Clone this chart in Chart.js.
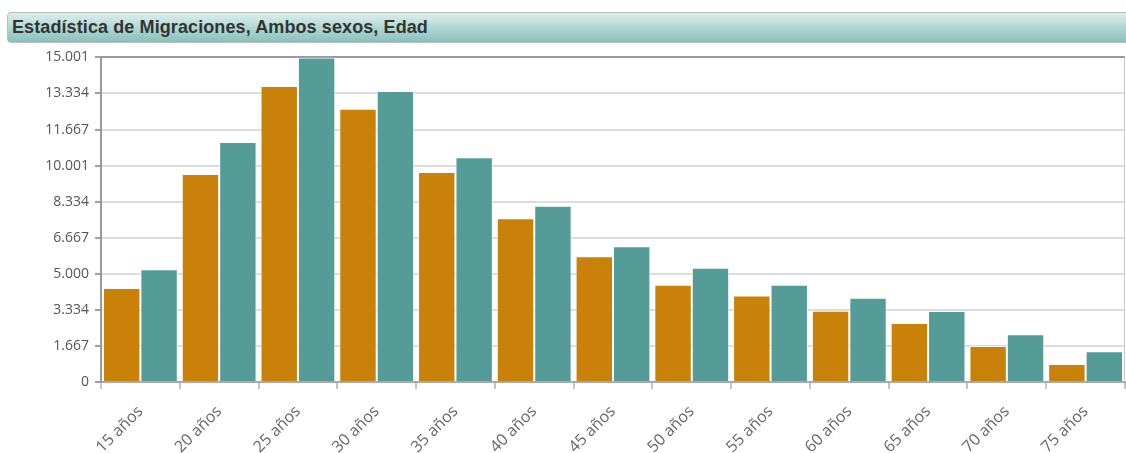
<!DOCTYPE html>
<html lang="es">
<head>
  <meta charset="UTF-8"/>
  <title>Estadística de Migraciones</title>
  <style>
    * { box-sizing: border-box; }
    body { margin: 0; background: #fff; width: 1126px; height: 453px; overflow: hidden; position: relative; }
    .titlebar {
      position: absolute; left: 7px; top: 12px; width: 1125px; height: 31px;
      border: 1px solid #b9bdbc; border-radius: 4px 0 0 4px;
      background: linear-gradient(#dceeec, #87c1bc);
      font: bold 18px "Liberation Sans", Arial, sans-serif; color: #333;
      padding: 4px 0 0 4px; letter-spacing: 0.1px;
      z-index: 1;
    }
    .chart-box { position: absolute; left: 0; top: 43px; width: 1126px; height: 410px; }
  </style>
  <script src="https://cdn.jsdelivr.net/npm/chart.js"></script>
</head>
<body>
  <div class="titlebar">Estadística de Migraciones, Ambos sexos, Edad</div>
  <div class="chart-box"><canvas id="chart"></canvas></div>

  <script>
    // age groups
    const ages = ['15 años','20 años','25 años','30 años','35 años','40 años','45 años',
                  '50 años','55 años','60 años','65 años','70 años','75 años'];
    const serieA = [4339, 9615, 13677, 12633, 9707, 7570, 5816, 4496, 4002, 3296, 2723, 1662, 831];
    const serieB = [5216, 11092, 15001, 13446, 10386, 8142, 6278, 5281, 4496, 3896, 3277, 2202, 1417];
    const yTicks = [0, 1667, 3334, 5000, 6667, 8334, 10001, 11667, 13334, 15001];

    const fmt = v => String(v).replace(/\B(?=(\d{3})+(?!\d))/g, '.');

    // thin frame on the right side of the plot
    const rightEdge = {
      id: 'rightEdge',
      afterDraw(chart) {
        const a = chart.chartArea, c = chart.ctx;
        c.save();
        c.strokeStyle = '#c8c8c8'; c.lineWidth = 1;
        c.beginPath(); c.moveTo(a.right - 0.5, a.top); c.lineTo(a.right - 0.5, a.bottom); c.stroke();
        c.restore();
      }
    };

    new Chart(document.getElementById('chart'), {
      type: 'bar',
      data: {
        labels: ages,
        datasets: [
          { data: serieA, backgroundColor: '#c98109', borderColor: 'rgba(255,255,255,0.85)', borderWidth: 1,
            categoryPercentage: 0.95, barPercentage: 1 },
          { data: serieB, backgroundColor: '#559c98', borderColor: 'rgba(255,255,255,0.85)', borderWidth: 1,
            categoryPercentage: 0.95, barPercentage: 1 }
        ]
      },
      options: {
        responsive: true, maintainAspectRatio: false, animation: false,
        layout: { padding: { top: 11, right: 1, left: 0, bottom: 0 } },
        plugins: { legend: { display: false }, tooltip: { enabled: false } },
        scales: {
          x: {
            offset: true,
            grid: { offset: true, drawOnChartArea: false, drawTicks: true, tickLength: 7, tickColor: '#c4c4c4', lineWidth: 2 },
            border: { color: '#aaa', width: 2 },
            ticks: { minRotation: 45, maxRotation: 45, autoSkip: false, padding: 13,
                     color: '#666', font: { family: 'Open Sans', size: 16 } },
            afterFit: s => { s.height = 71; }
          },
          y: {
            min: 0, max: 15001,
            afterBuildTicks: s => { s.ticks = yTicks.map(v => ({ value: v })); },
            ticks: { callback: v => fmt(v), padding: 6, color: '#555', font: { family: 'Open Sans', size: 14 } },
            grid: {
              color: c => c.index === yTicks.length - 1 ? '#9a9a9a' : '#dcdcdc',
              lineWidth: 2, tickLength: 6, tickColor: '#a0a0a0'
            },
            border: { color: '#9a9a9a', width: 2 },
            afterFit: s => { s.width = 101; }
          }
        }
      },
      plugins: [rightEdge]
    });
  </script>
</body>
</html>
